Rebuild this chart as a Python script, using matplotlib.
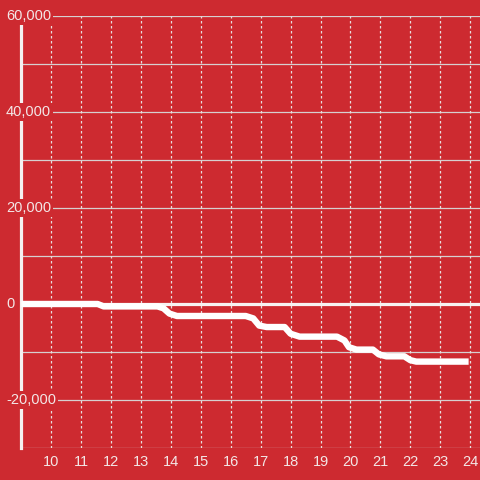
import matplotlib
matplotlib.use("Agg")
import matplotlib.pyplot as plt
import matplotlib.transforms as mtransforms

# hour of day vs cumulative value
hours = [9.0, 11.55, 11.75, 13.55, 13.75, 13.95, 14.2,
         16.5, 16.75, 16.95, 17.2, 17.8, 18.0, 18.3,
         19.55, 19.8, 19.95, 20.2, 20.75, 20.95, 21.2,
         21.8, 22.0, 22.2, 23.95]
values = [0, 0, -500, -500, -900, -2000, -2500,
          -2500, -3000, -4500, -4800, -4800, -6200, -6800,
          -6800, -7600, -9000, -9500, -9500, -10500, -10900,
          -10900, -11700, -12000, -12000]

y_ticks = [-20000, 0, 20000, 40000, 60000]
y_grid = [-30000, -20000, -10000, 0, 10000, 20000, 30000, 40000, 50000, 60000]
x_ticks = list(range(10, 25))

bg = "#cd2a30"
txt = "#f3e6e6"

plt.rcParams["font.family"] = ["Liberation Sans", "DejaVu Sans"]

fig = plt.figure(figsize=(4.8, 4.8), dpi=100, facecolor=bg)
ax = fig.add_axes([20.5 / 480, 32 / 480, 1 - 20.5 / 480, 432 / 480])
ax.set_facecolor(bg)
ax.set_xlim(8.97, 24.33)
ax.set_ylim(-30000, 60000)

for s in ["top", "right", "bottom"]:
    ax.spines[s].set_visible(False)
ax.spines["left"].set_color("#f5f0f0")
ax.spines["left"].set_linewidth(2.3)
ax.spines["left"].set_zorder(1)

# grid
for g in y_grid:
    ax.axhline(g, color="#d6d0d0", lw=0.9, zorder=1)
for xt in x_ticks:
    ax.axvline(xt, color="#e8dede", lw=0.9, ls=(0, (2, 2)), zorder=1)
ax.axhline(0, color="#f7f2f2", lw=2.3, zorder=2)

ax.plot(hours, values, color="white", lw=4.6, solid_joinstyle="round",
        solid_capstyle="butt", zorder=5)

ax.set_yticks([])
ax.set_xticks(x_ticks)
ax.set_xticklabels([str(x) for x in x_ticks], color=txt, fontsize=10.5)
ax.tick_params(axis="x", length=0, pad=5)

trans = mtransforms.blended_transform_factory(fig.transFigure, ax.transData)
for yt in y_ticks:
    ax.text(6 / 480, yt, "{:,}".format(yt), transform=trans, ha="left", va="center",
            color=txt, fontsize=10.5, zorder=6, clip_on=False,
            bbox=dict(facecolor=bg, edgecolor="none", pad=1.5))

fig.savefig("out.png", dpi=100, facecolor=bg)
